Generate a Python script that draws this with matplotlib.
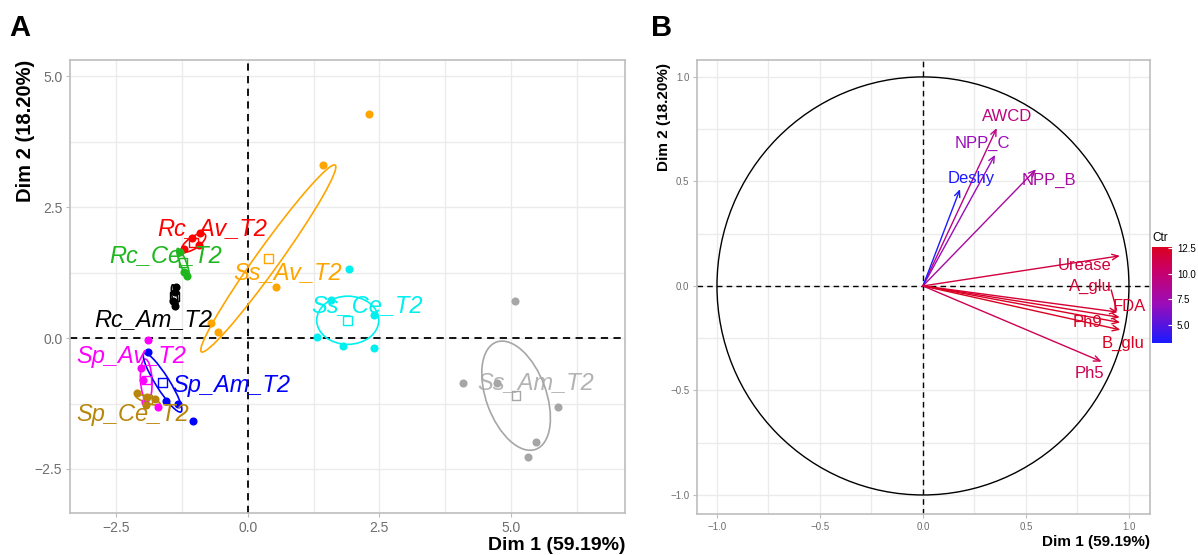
import numpy as np
import matplotlib
matplotlib.use("Agg")
import matplotlib.pyplot as plt
from matplotlib.patches import Ellipse, Circle
from matplotlib.colors import LinearSegmentedColormap, Normalize

plt.rcParams['font.family'] = ['Liberation Sans', 'DejaVu Sans']

# ---- panel A : individuals ----
groups = ["Rc_Av_T2", "Rc_Ce_T2", "Rc_Am_T2", "Ss_Av_T2", "Ss_Ce_T2",
          "Ss_Am_T2", "Sp_Av_T2", "Sp_Am_T2", "Sp_Ce_T2"]
grp_x = [[-0.91, -0.93, -1.22, -1.06],
         [-1.29, -1.22, -1.16],
         [-1.37, -1.39, -1.43, -1.39],
         [2.30, 1.43, 0.53, -0.70, -0.57],
         [1.92, 1.58, 2.40, 1.31, 1.81, 2.40],
         [5.08, 4.09, 4.73, 5.89, 5.47, 5.32],
         [-1.90, -2.03, -2.00, -1.96, -1.71],
         [-1.90, -1.56, -1.33, -1.05],
         [-2.11, -1.92, -1.77, -1.94]]
grp_y = [[2.00, 1.77, 1.70, 1.91],
         [1.64, 1.26, 1.18],
         [0.97, 0.88, 0.71, 0.61],
         [4.27, 3.30, 0.97, 0.29, 0.11],
         [1.32, 0.73, 0.44, 0.02, -0.15, -0.19],
         [0.71, -0.85, -0.86, -1.32, -1.99, -2.28],
         [-0.04, -0.57, -0.80, -1.22, -1.32],
         [-0.27, -1.20, -1.26, -1.58],
         [-1.05, -1.13, -1.16, -1.28]]
cen_x = [-1.03, -1.23, -1.39, 0.39, 1.90, 5.10, -1.93, -1.62, -1.90]
cen_y = [1.82, 1.44, 0.80, 1.52, 0.34, -1.10, -0.80, -0.85, -1.18]
# confidence ellipses: full axes lengths and angle (deg)
ell_w = [0.54, 0.58, 0.44, 4.38, 0.92, 2.18, 0.80, 1.32, 0.50]
ell_h = [0.22, 0.12, 0.10, 0.44, 1.18, 1.14, 0.22, 0.26, 0.12]
ell_ang = [35, 111, 100, 54.5, 90, 110, 93, 122, -20]
lab_x = [-0.67, -1.56, -1.79, 0.76, 2.26, 5.48, -2.21, -0.32, -2.19]
lab_y = [2.10, 1.58, 0.36, 1.26, 0.63, -0.84, -0.36, -0.90, -1.45]
grp_col = ["#FF0000", "#1DB61D", "#000000", "#FFA500", "#00F0F0",
           "#A6A6A6", "#FF00FF", "#0000FF", "#B8860B"]

# ---- panel B : variables ----
vars_ = ["AWCD", "NPP_C", "Deshy", "NPP_B", "Urease", "A_glu", "FDA",
         "Ph9", "B_glu", "Ph5"]
dim1 = [0.358, 0.350, 0.180, 0.549, 0.956, 0.945, 0.955, 0.957, 0.958, 0.867]
dim2 = [0.755, 0.627, 0.463, 0.558, 0.144, -0.125, -0.150, -0.175, -0.210, -0.362]
ctr = [9.3, 7.0, 3.3, 8.0, 11.6, 12.0, 12.3, 12.4, 12.6, 11.0]
vlab_x = [0.41, 0.29, 0.236, 0.61, 0.786, 0.814, 1.0, 0.80, 0.97, 0.81]
vlab_y = [0.81, 0.68, 0.515, 0.504, 0.10, 0.0, -0.099, -0.174, -0.274, -0.42]

grid_c = "#EBEBEB"
border_c = "#BDBDBD"
tick_c = "#6E6E6E"

fig = plt.figure(figsize=(11.98, 5.55), dpi=100)

def style(ax, xmaj, xmin, ymaj, ymin, fs):
    ax.set_xticks(xmaj)
    ax.set_yticks(ymaj)
    ax.set_xticks(xmin, minor=True)
    ax.set_yticks(ymin, minor=True)
    ax.grid(True, which='both', color=grid_c, lw=1.0, zorder=0)
    ax.set_axisbelow(True)
    for s in ax.spines.values():
        s.set_color(border_c)
        s.set_linewidth(1.2)
    ax.tick_params(which='major', colors=border_c, labelcolor=tick_c,
                   labelsize=fs, length=3, width=0.8, pad=2.5)
    ax.tick_params(which='minor', length=0)

# panel A
axA = fig.add_axes([0.0584, 0.0757, 0.4633, 0.8162])
axA.set_xlim(-3.38, 7.17)
axA.set_ylim(-3.34, 5.31)
style(axA, [-2.5, 0, 2.5, 5.0], [-1.25, 1.25, 3.75, 6.25],
      [-2.5, 0, 2.5, 5.0], [-1.25, 1.25, 3.75], 10)
axA.set_xticklabels(["\u22122.5", "0.0", "2.5", "5.0"])
axA.set_yticklabels(["\u22122.5", "0.0", "2.5", "5.0"])
axA.axhline(0, color='black', ls=(0, (4, 3)), lw=1.3, zorder=1)
axA.axvline(0, color='black', ls=(0, (4, 3)), lw=1.3, zorder=1)
for i, g in enumerate(groups):
    c = grp_col[i]
    axA.add_patch(Ellipse((cen_x[i], cen_y[i]), ell_w[i], ell_h[i],
                          angle=ell_ang[i], fill=False, ec=c, lw=1.2, zorder=2))
    axA.scatter(grp_x[i], grp_y[i], s=34, color=c, zorder=3, lw=0)
    axA.scatter([cen_x[i]], [cen_y[i]], s=40, marker='s', facecolor='none',
                edgecolor=c, lw=1.0, zorder=3)
    axA.text(lab_x[i], lab_y[i], g, color=c, fontsize=17, style='italic',
             ha='center', va='center', zorder=4,
             alpha=0.85 if g == "Ss_Am_T2" else 1.0)
fig.text(0.522, 0.009, "Dim 1 (59.19%)", ha='right', va='baseline',
         fontsize=14, fontweight='bold')
fig.text(0.013, 0.892, "Dim 2 (18.20%)", ha='left', va='top', rotation=90,
         fontsize=14.5, fontweight='bold')
fig.text(0.008, 0.975, "A", ha='left', va='top', fontsize=21,
         fontweight='bold')

# panel B
cmap = LinearSegmentedColormap.from_list(
    "ctr", [(0.0, "#1A1AFF"), (0.4, "#9A0DBA"), (0.75, "#C8006A"),
            (1.0, "#DA0020")])
norm = Normalize(vmin=3.2, vmax=12.6)
axB = fig.add_axes([0.5818, 0.0739, 0.3781, 0.818])
axB.set_xlim(-1.097, 1.102)
axB.set_ylim(-1.091, 1.081)
style(axB, [-1.0, -0.5, 0, 0.5, 1.0], [-0.75, -0.25, 0.25, 0.75],
      [-1.0, -0.5, 0, 0.5, 1.0], [-0.75, -0.25, 0.25, 0.75], 7)
labs = ["\u22121.0", "\u22120.5", "0.0", "0.5", "1.0"]
axB.set_xticklabels(labs)
axB.set_yticklabels(labs)
axB.add_patch(Circle((0, 0), 1.0, fill=False, ec='black', lw=1.0, zorder=2))
axB.axhline(0, color='black', ls=(0, (4, 3)), lw=1.0, zorder=1)
axB.axvline(0, color='black', ls=(0, (4, 3)), lw=1.0, zorder=1)
for i, v in enumerate(vars_):
    c = cmap(norm(ctr[i]))
    axB.annotate("", xy=(dim1[i], dim2[i]), xytext=(0, 0),
                 arrowprops=dict(arrowstyle='->,head_length=0.45,head_width=0.2',
                                 color=c, lw=1.0, shrinkA=0, shrinkB=0),
                 zorder=3)
    axB.text(vlab_x[i], vlab_y[i], v, color=c, fontsize=12, ha='center',
             va='center', zorder=4)
# leader for A_glu
ia = vars_.index("A_glu")
axB.plot([vlab_x[ia] + 0.1, dim1[ia] - 0.005], [vlab_y[ia] - 0.02, dim2[ia] + 0.01],
         color=cmap(norm(ctr[ia])), lw=1.0, zorder=3)
fig.text(0.96, 0.017, "Dim 1 (59.19%)", ha='right', va='baseline',
         fontsize=11, fontweight='bold')
fig.text(0.5485, 0.886, "Dim 2 (18.20%)", ha='left', va='top', rotation=90,
         fontsize=11, fontweight='bold')
fig.text(0.543, 0.975, "B", ha='left', va='top', fontsize=21,
         fontweight='bold')

# colorbar
cax = fig.add_axes([0.9616, 0.382, 0.0167, 0.173])
sm = matplotlib.cm.ScalarMappable(norm=norm, cmap=cmap)
cb = fig.colorbar(sm, cax=cax)
cb.set_ticks([5.0, 7.5, 10.0, 12.5])
cb.set_ticklabels(["5.0", "7.5", "10.0", "12.5"])
cb.outline.set_visible(False)
cax.tick_params(labelsize=7, length=3, color='white', direction='in')
cax.set_title("Ctr", fontsize=8.5, loc='left', pad=4)

fig.savefig("out.png", dpi=100)
